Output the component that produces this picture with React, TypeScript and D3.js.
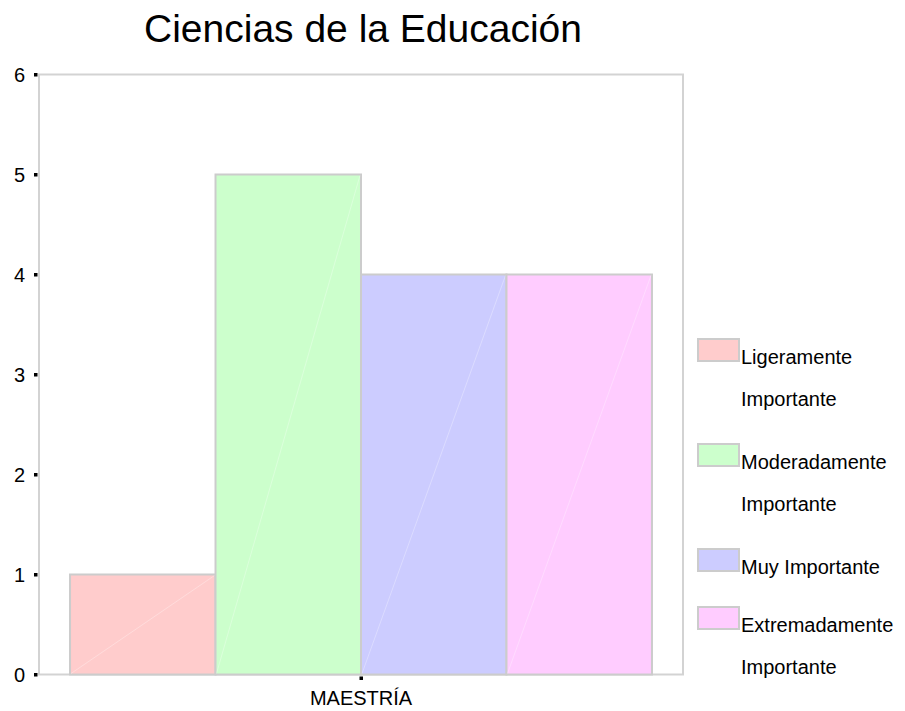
import React from "react";
import * as d3 from "d3";

const title = "Ciencias de la Educación";
const categories = ["MAESTRÍA"];
const seriesNames = [
  ["Ligeramente", "Importante"],
  ["Moderadamente", "Importante"],
  ["Muy Importante"],
  ["Extremadamente", "Importante"],
];
const seriesValues = [1, 5, 4, 4];
const seriesColors = ["#ffcccc", "#ccffcc", "#ccccff", "#ffccff"];
const yTicks = [0, 1, 2, 3, 4, 5, 6];

const W = 905;
const H = 711;
const M = { left: 39, right: 683, top: 74.5, bottom: 674.5 };
const FONT = "'Liberation Sans', Arial, sans-serif";

export default function App() {
  const y = d3.scaleLinear().domain([0, 6]).range([M.bottom, M.top]);
  const x0 = d3
    .scaleBand<string>()
    .domain(categories)
    .range([M.left, M.right])
    .paddingInner(0)
    .paddingOuter(0.0533);
  const x1 = d3
    .scaleBand<number>()
    .domain(seriesValues.map((_, i) => i))
    .range([0, x0.bandwidth()]);

  // legend layout
  const legendX = 698;
  const swW = 41;
  const swH = 22;
  const lineH = 42;
  let ly = 339;
  const legendItems = seriesNames.map((lines, i) => {
    const item = { lines, i, y: ly };
    ly += lines.length === 2 ? 105 : 58;
    return item;
  });

  return (
    <svg
      width={W}
      height={H}
      style={{ position: "absolute", left: 0, top: 0, background: "#fff" }}
      fontFamily={FONT}
    >
      <rect x={0} y={0} width={W} height={H} fill="#fff" />
      <text x={363} y={41.5} textAnchor="middle" fontSize={39} fill="#000">
        {title}
      </text>

      {/* plot frame */}
      <rect
        x={M.left}
        y={M.top}
        width={M.right - M.left}
        height={M.bottom - M.top}
        fill="#fff"
        stroke="#d3d3d3"
        strokeWidth={2}
      />

      {/* bars */}
      {categories.map((c) =>
        seriesValues.map((v, i) => {
          const bx = (x0(c) ?? 0) + (x1(i) ?? 0);
          const bw = x1.bandwidth();
          const by = y(v);
          const bh = y(0) - y(v);
          return (
            <g key={c + i}>
              <rect
                x={bx}
                y={by}
                width={bw}
                height={bh}
                fill={seriesColors[i]}
                stroke="#cccccc"
                strokeWidth={2}
              />
              <line
                x1={bx + 1}
                y1={y(0) - 1}
                x2={bx + bw - 1}
                y2={by + 1}
                stroke="#ffffff"
                strokeOpacity={0.3}
                strokeWidth={1}
              />
            </g>
          );
        })
      )}

      {/* y ticks */}
      {yTicks.map((t) => (
        <g key={t}>
          <rect x={34} y={y(t) - 1.5} width={3.5} height={3.5} fill="#000" />
          <text
            x={25}
            y={y(t) + 7}
            textAnchor="end"
            fontSize={20}
            fill="#000"
          >
            {t}
          </text>
        </g>
      ))}

      {/* x ticks */}
      {categories.map((c) => {
        const cx = (x0(c) ?? 0) + x0.bandwidth() / 2;
        return (
          <g key={c}>
            <rect x={cx - 1.5} y={M.bottom + 2} width={3.5} height={3.5} fill="#000" />
            <text x={cx} y={705} textAnchor="middle" fontSize={20} fill="#000">
              {c}
            </text>
          </g>
        );
      })}

      {/* legend */}
      {legendItems.map((it) => (
        <g key={it.i}>
          <rect
            x={legendX}
            y={it.y}
            width={swW}
            height={swH}
            fill={seriesColors[it.i]}
            stroke="#cccccc"
            strokeWidth={2}
          />
          {it.lines.map((ln, j) => (
            <text
              key={j}
              x={741}
              y={it.y + 25 + j * lineH}
              fontSize={20}
              fill="#000"
            >
              {ln}
            </text>
          ))}
        </g>
      ))}
    </svg>
  );
}
